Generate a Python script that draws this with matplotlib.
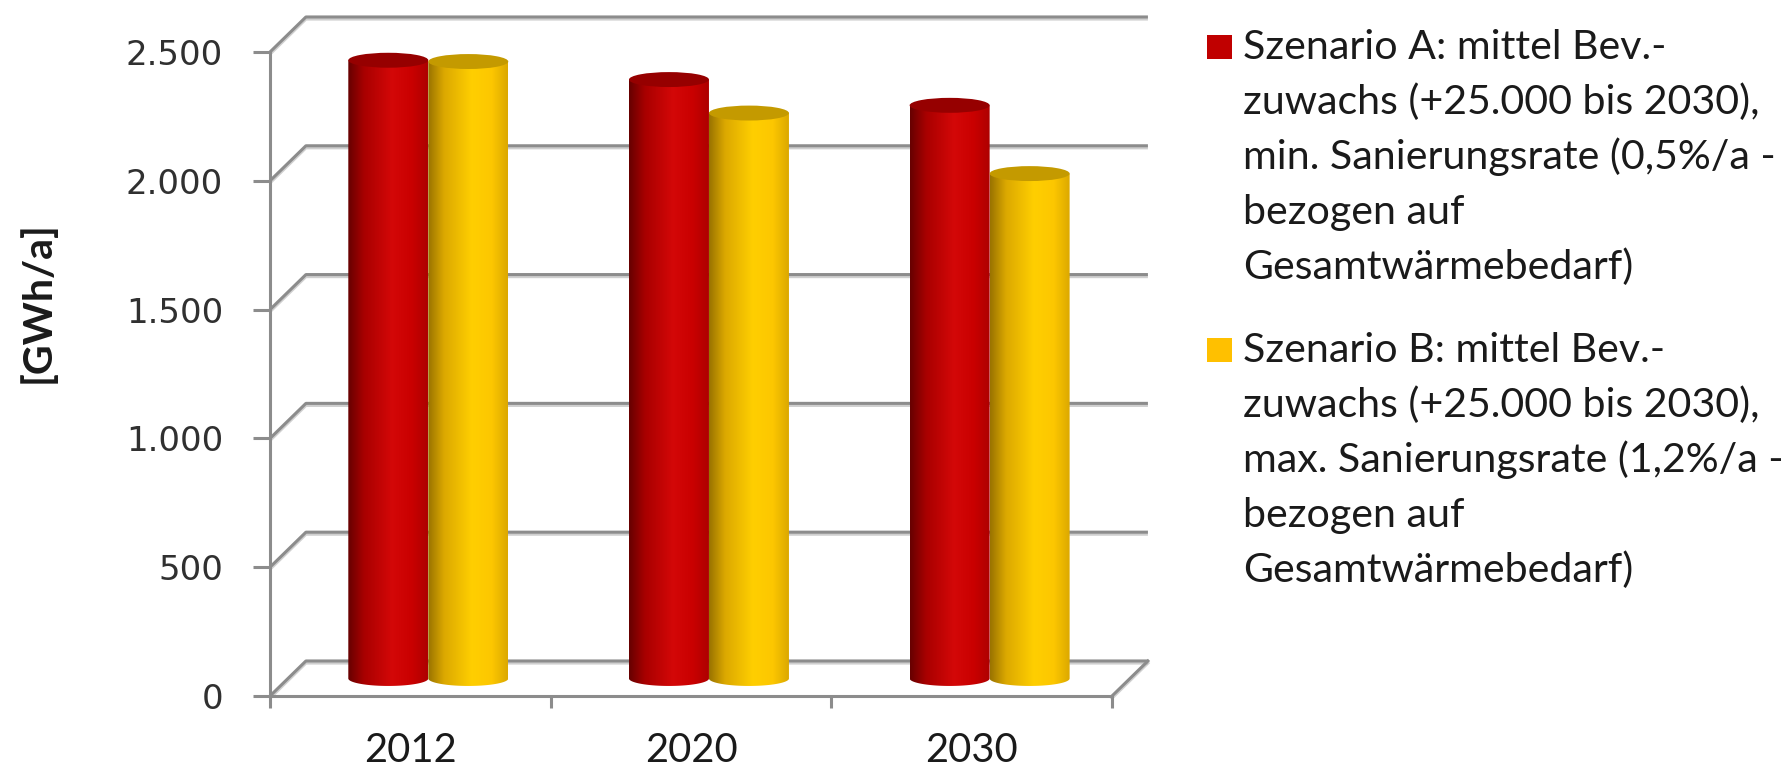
import numpy as np
import matplotlib
matplotlib.use("Agg")
import matplotlib.pyplot as plt
from matplotlib.patches import Ellipse, Rectangle, PathPatch
from matplotlib.path import Path
import matplotlib.patheffects as pe

# ---------------- data ----------------
categories = ["2012", "2020", "2030"]
scenario_a = [2400, 2325, 2225]
scenario_b = [2395, 2195, 1960]
y_ticks = [0, 500, 1000, 1500, 2000, 2500]
y_tick_labels = ["0", "500", "1.000", "1.500", "2.000", "2.500"]
y_label = "[GWh/a]"
legend_a = ["Szenario A: mittel Bev.-",
            "zuwachs (+25.000 bis 2030),",
            "min. Sanierungsrate (0,5%/a -",
            "bezogen auf",
            "Gesamtwärmebedarf)"]
legend_b = ["Szenario B: mittel Bev.-",
            "zuwachs (+25.000 bis 2030),",
            "max. Sanierungsrate (1,2%/a -",
            "bezogen auf",
            "Gesamtwärmebedarf)"]

# ---------------- style ----------------
W, H = 1788, 770
RED, YEL = "#c00000", "#ffc000"
GRID = "#8c8c8c"
TXT = "#1a1a1a"
TEXT_FONT = ["Lato", "DejaVu Sans"]
TICK_FONT = ["DejaVu Sans"]
DX, DY = 0.128, 136.0          # depth offset of the back wall (data units)
BW = 0.285                     # width of one cylinder (category units)
E = 29.0                       # half-height of cylinder ellipse (value units)

fig = plt.figure(figsize=(W / 100, H / 100), dpi=100)
fig.patch.set_facecolor("white")
ax = fig.add_axes([270 / W, (H - 696) / H, 842 / W, 644 / H])
ax.set_facecolor("none")

shadow = [pe.SimpleLineShadow(offset=(0, -1.5), shadow_color="#b0b0b0", alpha=0.6), pe.Normal()]

# back wall grid lines + side wall diagonals
n = len(categories)
for v in y_ticks:
    ax.plot([0, DX, n + DX], [v, v + DY, v + DY], color=GRID, lw=2.2,
            clip_on=False, zorder=1, solid_capstyle="butt", path_effects=shadow)
# floor right edge
ax.plot([n, n + DX], [0, DY], color=GRID, lw=2.2, clip_on=False, zorder=1, path_effects=shadow)

for s in ["top", "right"]:
    ax.spines[s].set_visible(False)
for s in ["left", "bottom"]:
    ax.spines[s].set_color(GRID)
    ax.spines[s].set_linewidth(2.2)
    ax.spines[s].set_zorder(1.5)


def make_grad(stops):
    xs = np.linspace(0, 1, 256)
    pos = [p for p, _ in stops]
    cols = np.array([c for _, c in stops])
    g = np.stack([np.interp(xs, pos, cols[:, k]) for k in range(3)], axis=-1)
    return g[np.newaxis, :, :]


red_grad = make_grad([(0.0, (0.40, 0.0, 0.0)), (0.2, (0.66, 0.0, 0.0)),
                      (0.55, (0.83, 0.03, 0.03)), (0.8, (0.79, 0.0, 0.0)),
                      (1.0, (0.68, 0.0, 0.0))])
yel_grad = make_grad([(0.0, (0.60, 0.45, 0.0)), (0.2, (0.86, 0.66, 0.0)),
                      (0.55, (1.0, 0.81, 0.0)), (0.8, (0.99, 0.78, 0.0)),
                      (1.0, (0.86, 0.66, 0.0))])


def cylinder(xl, xr, base, top, grad, top_color, z):
    xc = (xl + xr) / 2
    w = xr - xl
    t = np.linspace(np.pi, 2 * np.pi, 80)
    bx = xc + (w / 2) * np.cos(t)
    by = base + E * np.sin(t)
    verts = [(xl, top)] + list(zip(bx, by)) + [(xr, top), (xl, top)]
    codes = [Path.MOVETO] + [Path.LINETO] * (len(verts) - 2) + [Path.CLOSEPOLY]
    patch = PathPatch(Path(verts, codes), facecolor="none", edgecolor="none", zorder=z)
    ax.add_patch(patch)
    im = ax.imshow(grad, extent=[xl, xr, base - E, top], aspect="auto",
                   interpolation="bilinear", origin="lower", zorder=z)
    im.set_clip_path(patch)
    ax.add_patch(Ellipse((xc, top), w, 2 * E, facecolor=top_color, edgecolor="none", zorder=z + 0.1))


base = DY / 2
for i in range(n):
    c = i + 0.5 + DX / 2
    cylinder(c - BW, c, base, scenario_a[i] + base, red_grad, "#960000", 3 + i)
    cylinder(c, c + BW, base, scenario_b[i] + base, yel_grad, "#c49a00", 3.5 + i)

ax.set_xlim(0, n)
ax.set_ylim(0, 2500)
ax.set_autoscale_on(False)

# fit the Calibri-like font size to the measured legend line width
renderer = fig.canvas.get_renderer()
probe = fig.text(0, 0, legend_a[2], fontsize=20, family=TEXT_FONT)
wpx = probe.get_window_extent(renderer).width
probe.remove()
fs = 20 * 534 / wpx

# y axis ticks
ax.set_yticks(y_ticks, y_tick_labels)
ax.tick_params(axis="y", length=12.2, width=2.2, color=GRID, pad=21.6,
               labelsize=24.5, labelcolor="#303030")
for lab in ax.get_yticklabels():
    lab.set_family(TICK_FONT)

# x axis ticks
ax.set_xticks([i + 0.5 for i in range(n)], categories)
ax.set_xticks(list(range(n + 1)), minor=True)
ax.tick_params(axis="x", which="major", length=0, pad=26, labelsize=fs * 0.97, labelcolor=TXT)
ax.tick_params(axis="x", which="minor", length=8.6, width=2.2, color=GRID)
for lab in ax.get_xticklabels():
    lab.set_family(TEXT_FONT)

fig.text(38 / W, 1 - 302 / H, y_label, rotation=90, ha="center", va="center",
         fontsize=fs, fontweight="bold", family=TEXT_FONT, color=TXT)

# legend
def legend_block(lines, color, base_y):
    fig.patches.append(Rectangle((1207 / W, 1 - base_y / H), 25 / W, 24 / H,
                                 transform=fig.transFigure, facecolor=color,
                                 edgecolor="none", figure=fig))
    for k, line in enumerate(lines):
        fig.text(1243 / W, 1 - (base_y + 55 * k) / H, line, ha="left", va="baseline",
                 fontsize=fs, family=TEXT_FONT, color=TXT)


legend_block(legend_a, RED, 59)
legend_block(legend_b, YEL, 362)

fig.savefig("out.png", dpi=100, facecolor="white")
